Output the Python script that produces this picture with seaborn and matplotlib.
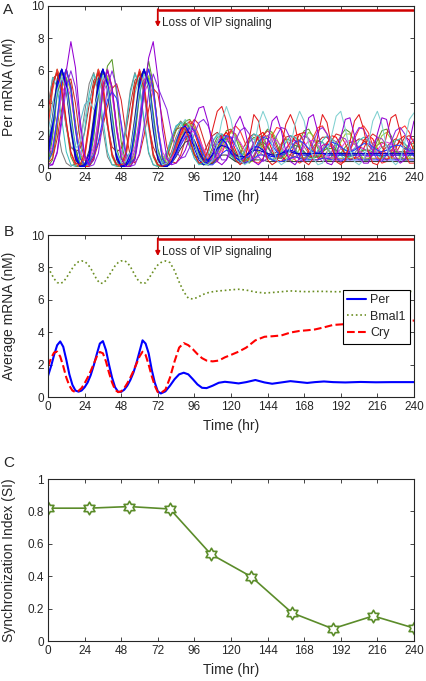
import numpy as np
import pandas as pd
import seaborn as sns
import matplotlib.pyplot as plt
from matplotlib.path import Path

# ---- panel A: single-cell Per mRNA (nM), sampled every 3 h ----
hours = list(range(0, 241, 3))

cell_01 = [0.8, 2.6, 5.0, 6.1, 5.2, 2.8, 0.8, 0.1, 0.1, 0.6, 2.6, 5.0, 6.1, 5.2, 2.8, 0.8, 0.1, 0.1, 0.6, 2.6, 5.0, 6.1, 5.2, 2.8, 0.8,
           0.2, 0.3, 0.9, 1.7, 2.4, 2.6, 2.1, 1.2, 0.5, 0.2, 0.4, 0.9, 1.5, 1.8, 1.5, 0.9,
           0.6, 0.5, 0.7, 1.0, 1.3, 1.3, 1.1, 0.8, 0.7, 0.7, 0.9, 1.1, 1.1, 1.0, 0.8, 0.8, 0.8, 0.9, 0.9, 0.9,
           0.8, 0.8, 0.8, 0.8, 0.8, 0.8, 0.8, 0.8, 0.8, 0.8, 0.8, 0.8, 0.8, 0.8, 0.8, 0.8, 0.8, 0.8, 0.8, 0.8]
cell_02 = [1.2, 0.8, 2.7, 5.1, 6.1, 5.0, 2.6, 0.7, 0.1, 0.1, 0.7, 2.7, 5.1, 6.1, 5.0, 2.6, 0.7, 0.1, 0.1, 0.7, 2.7, 5.1, 6.1, 5.0, 2.6,
           0.7, 0.1, 0.4, 1.2, 2.1, 2.7, 2.8, 2.2, 1.3, 0.5, 0.2, 0.5, 1.2, 1.9, 2.2, 1.8,
           1.1, 0.5, 0.3, 0.6, 1.3, 2.0, 2.2, 1.8, 1.1, 0.5, 0.4, 0.7, 1.4, 2.0, 2.1, 1.6, 1.0, 0.5, 0.5, 0.9,
           1.5, 2.0, 1.9, 1.4, 0.8, 0.5, 0.6, 1.1, 1.7, 2.0, 1.8, 1.2, 0.7, 0.5, 0.7, 1.2, 1.8, 2.0, 1.7, 1.1]
cell_03 = [2.8, 5.0, 6.1, 5.0, 2.6, 0.7, 0.1, 0.1, 0.7, 2.7, 5.1, 6.1, 5.0, 2.6, 0.7, 0.1, 0.1, 0.7, 2.7, 5.1, 6.0, 5.0, 2.6, 0.7, 0.1,
           0.1, 0.6, 1.5, 2.3, 2.8, 2.6, 1.8, 0.9, 0.3, 0.2, 0.6, 1.3, 1.9, 2.0, 1.5, 0.8,
           0.4, 0.5, 1.0, 1.6, 1.9, 1.7, 1.1, 0.6, 0.5, 0.8, 1.4, 1.8, 1.7, 1.2, 0.7, 0.6, 0.8, 1.3, 1.7, 1.6,
           1.2, 0.8, 0.6, 0.9, 1.3, 1.6, 1.5, 1.1, 0.8, 0.7, 1.0, 1.4, 1.6, 1.4, 1.0, 0.8, 0.8, 1.1, 1.5, 1.5]
cell_04 = [0.3, 0.2, 1.0, 3.2, 6.0, 7.8, 6.2, 3.0, 0.8, 0.2, 0.5, 2.4, 4.8, 6.0, 5.0, 2.4, 0.6, 0.1, 0.1, 0.5, 2.2, 4.6, 6.8, 7.8, 5.6,
           2.4, 0.6, 0.2, 0.3, 0.6, 1.1, 1.9, 2.9, 3.7, 3.8, 2.8, 1.3, 0.4, 0.2, 0.5, 1.4,
           2.7, 3.2, 2.4, 1.1, 0.4, 0.2, 0.5, 1.6, 2.9, 3.2, 2.3, 1.0, 0.4, 0.2, 0.6, 1.8, 3.1, 3.3, 2.2, 0.9,
           0.3, 0.2, 0.7, 1.9, 3.0, 3.1, 2.0, 0.8, 0.3, 0.3, 0.9, 2.1, 3.1, 3.0, 1.8, 0.7, 0.3, 0.5, 1.6, 2.9]
cell_05 = [1.8, 3.0, 4.8, 5.6, 4.9, 2.9, 1.2, 1.6, 3.0, 4.2, 3.6, 4.6, 5.7, 5.0, 2.9, 1.0, 0.3, 0.4, 1.0, 2.8, 4.8, 5.8, 5.0, 2.8, 0.9,
           0.2, 0.3, 0.9, 1.8, 2.6, 3.0, 2.6, 1.6, 0.7, 0.3, 0.2, 0.5, 1.5, 2.9, 3.8, 3.0,
           1.5, 0.5, 0.2, 0.4, 1.3, 2.7, 3.5, 2.8, 1.4, 0.5, 0.2, 0.4, 1.3, 2.7, 3.5, 2.9, 1.5, 0.6, 0.2, 0.3,
           0.9, 2.0, 3.2, 3.5, 2.4, 1.1, 0.4, 0.2, 0.5, 1.5, 2.9, 3.5, 2.7, 1.3, 0.5, 0.2, 0.5, 1.6, 3.0, 3.4]
cell_06 = [3.5, 5.2, 5.9, 4.8, 2.8, 1.0, 0.3, 0.2, 0.9, 2.9, 5.0, 5.9, 4.9, 2.7, 0.8, 0.2, 0.2, 0.9, 2.9, 5.0, 5.9, 4.9, 2.7, 0.8, 0.2,
           0.1, 0.3, 1.0, 1.9, 2.5, 2.4, 1.7, 0.8, 0.3, 0.4, 1.1, 2.4, 3.5, 3.8, 2.9, 1.4,
           0.5, 0.2, 0.5, 1.8, 3.3, 2.9, 1.5, 0.5, 0.2, 0.4, 1.3, 2.7, 3.3, 2.6, 1.2, 0.4, 0.2, 0.6, 2.0, 3.3,
           2.8, 1.3, 0.4, 0.2, 0.5, 1.6, 2.9, 3.3, 2.4, 1.0, 0.3, 0.2, 0.7, 2.0, 3.1, 3.3, 2.2, 0.9, 0.3, 0.3]
cell_07 = [0.4, 1.0, 3.0, 5.3, 6.1, 4.9, 2.4, 0.6, 0.2, 0.3, 0.8, 1.6, 3.0, 4.2, 4.7, 4.3, 2.8, 1.0, 0.3, 0.6, 2.6, 5.0, 6.1, 4.9, 2.5,
           0.6, 0.1, 0.3, 0.9, 1.6, 2.2, 2.5, 2.3, 1.6, 0.8, 0.4, 0.5, 1.0, 1.6, 2.0, 1.9,
           1.4, 0.9, 0.6, 0.7, 1.1, 1.6, 1.9, 1.8, 1.4, 1.0, 0.8, 0.9, 1.2, 1.6, 1.7, 1.5, 1.2, 1.0, 0.9, 1.1,
           1.4, 1.6, 1.5, 1.3, 1.1, 1.0, 1.1, 1.3, 1.5, 1.5, 1.3, 1.1, 1.0, 1.1, 1.3, 1.4, 1.4, 1.2, 1.1, 1.1]
cell_08 = [4.5, 4.0, 2.6, 1.0, 0.3, 0.1, 0.3, 1.5, 3.4, 5.2, 5.9, 4.6, 2.4, 0.7, 0.2, 0.2, 0.8, 2.6, 4.8, 5.9, 5.0, 2.8, 0.9, 0.2, 0.1,
           0.2, 0.8, 1.7, 2.5, 2.9, 2.6, 1.8, 0.9, 0.3, 0.2, 0.5, 1.1, 1.7, 2.1, 1.9, 1.3,
           0.7, 0.4, 0.5, 1.0, 1.6, 2.0, 1.9, 1.4, 0.9, 0.6, 0.7, 1.1, 1.6, 1.9, 1.7, 1.3, 0.9, 0.7, 0.8, 1.2,
           1.6, 1.8, 1.6, 1.2, 0.9, 0.8, 0.9, 1.3, 1.6, 1.7, 1.5, 1.1, 0.9, 0.9, 1.1, 1.4, 1.6, 1.5, 1.2, 1.0]
cell_09 = [0.1, 0.5, 2.4, 4.9, 6.0, 5.1, 2.8, 0.9, 0.2, 0.1, 0.5, 2.3, 4.6, 6.3, 6.7, 4.6, 1.6, 0.3, 0.1, 0.6, 2.6, 5.0, 6.6, 5.2, 2.4,
           0.6, 0.2, 0.6, 1.4, 2.3, 2.9, 3.0, 2.5, 1.5, 0.6, 0.2, 0.3, 0.9, 1.7, 2.3, 2.4,
           1.9, 1.1, 0.5, 0.3, 0.6, 1.3, 2.0, 2.4, 2.2, 1.5, 0.8, 0.4, 0.5, 1.0, 1.7, 2.3, 2.4, 1.9, 1.2, 0.6,
           0.4, 0.7, 1.3, 2.0, 2.4, 2.2, 1.6, 0.9, 0.5, 0.5, 1.0, 1.7, 2.3, 2.4, 2.0, 1.3, 0.7, 0.5, 0.8, 1.4]
cell_10 = [1.2, 2.9, 5.2, 6.0, 5.0, 2.6, 0.7, 0.2, 0.2, 0.8, 2.9, 5.2, 6.1, 5.0, 2.6, 0.7, 0.2, 0.2, 0.8, 2.9, 5.2, 6.1, 5.0, 2.6, 0.7,
           0.2, 0.2, 0.7, 1.5, 2.3, 2.7, 2.4, 1.6, 0.8, 0.3, 0.3, 0.8, 1.5, 2.0, 2.0, 1.5,
           0.9, 0.5, 0.5, 0.9, 1.5, 1.9, 1.8, 1.3, 0.8, 0.6, 0.7, 1.2, 1.6, 1.7, 1.4, 1.0, 0.7, 0.7, 1.0, 1.4,
           1.5, 1.3, 1.0, 0.8, 0.8, 1.0, 1.2, 1.3, 1.2, 1.0, 0.9, 0.9, 1.0, 1.1, 1.1, 1.0, 1.0, 1.0, 1.0, 1.0]
cell_11 = [0.3, 0.6, 1.8, 3.6, 5.2, 5.5, 4.0, 1.8, 0.5, 0.3, 0.6, 1.5, 2.6, 3.8, 4.9, 5.2, 4.2, 2.2, 0.7, 0.3, 0.8, 2.0, 3.6, 4.9, 4.6,
           3.0, 1.3, 0.4, 0.3, 0.8, 1.7, 2.6, 3.0, 2.7, 1.8, 0.9, 0.4, 0.6, 1.3, 2.0, 2.3,
           2.1, 1.5, 0.8, 0.5, 0.7, 1.3, 2.0, 2.3, 2.0, 1.3, 0.7, 0.5, 0.8, 1.5, 2.1, 2.2, 1.8, 1.1, 0.6, 0.6,
           1.0, 1.7, 2.1, 2.0, 1.5, 0.9, 0.6, 0.7, 1.2, 1.8, 2.1, 1.9, 1.3, 0.8, 0.6, 0.9, 1.4, 1.9, 2.0, 1.6]
cell_12 = [2.2, 4.0, 5.0, 4.4, 2.6, 1.2, 1.4, 2.8, 3.9, 4.2, 4.9, 5.6, 4.8, 2.6, 0.9, 0.3, 0.3, 0.9, 2.6, 4.6, 5.6, 4.7, 2.4, 0.8, 0.3,
           0.4, 1.0, 1.9, 2.6, 2.8, 2.3, 1.4, 0.6, 0.3, 0.5, 1.1, 1.7, 2.0, 1.8, 1.2, 0.6,
           0.4, 0.6, 1.1, 1.6, 1.8, 1.5, 1.0, 0.6, 0.5, 0.8, 1.3, 1.6, 1.6, 1.2, 0.8, 0.6, 0.7, 1.1, 1.5, 1.6,
           1.3, 0.9, 0.7, 0.8, 1.1, 1.4, 1.5, 1.3, 1.0, 0.8, 0.8, 1.0, 1.3, 1.4, 1.3, 1.1, 0.9, 0.9, 1.0, 1.2]
cell_13 = [0.5, 2.2, 4.7, 6.0, 5.4, 3.2, 1.0, 0.2, 0.1, 0.4, 2.2, 4.7, 6.0, 5.4, 3.2, 1.0, 0.2, 0.1, 0.4, 2.2, 4.7, 6.0, 5.4, 3.2, 1.0,
           0.2, 0.1, 0.5, 1.2, 2.0, 2.4, 2.2, 1.5, 0.7, 0.3, 0.3, 0.7, 1.2, 1.4, 1.2, 0.8,
           0.5, 0.4, 0.6, 0.9, 1.1, 1.0, 0.8, 0.6, 0.5, 0.6, 0.8, 0.9, 0.8, 0.7, 0.6, 0.6, 0.6, 0.7, 0.7, 0.7,
           0.6, 0.6, 0.6, 0.6, 0.6, 0.6, 0.6, 0.6, 0.6, 0.6, 0.6, 0.6, 0.6, 0.6, 0.6, 0.6, 0.6, 0.6, 0.6, 0.6]
cell_14 = [0.1, 0.2, 0.9, 2.8, 5.0, 6.0, 5.0, 2.6, 0.7, 0.1, 0.2, 0.9, 2.8, 5.0, 6.0, 5.0, 2.6, 0.7, 0.1, 0.2, 0.9, 2.6, 4.6, 5.8, 5.0,
           4.3, 3.6, 2.2, 1.1, 0.6, 0.7, 1.3, 2.1, 2.8, 3.0, 2.6, 1.8, 1.0, 0.5, 0.5, 1.0,
           1.7, 2.3, 2.5, 2.1, 1.4, 0.7, 0.4, 0.6, 1.2, 2.0, 2.5, 2.4, 1.8, 1.0, 0.5, 0.4, 0.8, 1.6, 2.3, 2.5,
           2.1, 1.4, 0.7, 0.4, 0.6, 1.2, 2.0, 2.5, 2.4, 1.8, 1.0, 0.5, 0.4, 0.8, 1.6, 2.3, 2.5, 2.1, 1.4, 0.7]
cell_15 = [1.0, 2.9, 5.3, 6.1, 5.0, 2.5, 0.6, 0.1, 0.2, 0.9, 2.9, 5.3, 6.1, 5.0, 2.5, 0.6, 0.1, 0.2, 0.9, 2.9, 5.3, 6.1, 5.0, 2.5, 0.6,
           0.1, 0.1, 0.4, 1.0, 1.7, 2.2, 2.2, 1.7, 1.0, 0.5, 0.5, 0.8, 1.2, 1.4, 1.3, 1.1,
           0.8, 0.7, 0.7, 0.9, 1.1, 1.1, 1.0, 0.9, 0.8, 0.8, 0.9, 1.0, 1.0, 0.9, 0.9, 0.9, 0.9, 0.9, 0.9, 0.9,
           0.9, 0.9, 0.9, 0.9, 0.9, 0.9, 0.9, 0.9, 0.9, 0.9, 0.9, 0.9, 0.9, 0.9, 0.9, 0.9, 0.9, 0.9, 0.9, 0.9]
cell_16 = [3.9, 5.5, 5.8, 4.4, 2.5, 1.3, 1.0, 1.2, 2.2, 3.9, 5.4, 5.8, 4.6, 2.6, 1.3, 1.0, 1.2, 2.2, 3.9, 5.4, 5.8, 4.6, 2.6, 1.3, 0.7,
           0.5, 1.0, 1.8, 2.4, 2.5, 2.0, 1.3, 0.8, 0.6, 0.9, 1.5, 2.0, 2.2, 1.9, 1.4, 0.9,
           0.7, 0.9, 1.4, 1.9, 2.1, 1.8, 1.3, 0.9, 0.8, 1.0, 1.5, 1.9, 2.0, 1.7, 1.2, 0.9, 0.8, 1.1, 1.6, 1.9,
           1.9, 1.5, 1.1, 0.9, 0.9, 1.2, 1.6, 1.8, 1.7, 1.4, 1.1, 0.9, 1.0, 1.3, 1.6, 1.8, 1.6, 1.3, 1.0, 0.9]
cell_17 = [0.3, 0.9, 2.8, 4.9, 5.6, 4.7, 2.5, 0.8, 0.2, 0.2, 0.9, 2.8, 4.9, 5.7, 4.7, 2.5, 0.8, 0.2, 0.2, 0.9, 2.8, 4.9, 5.7, 4.7, 2.5,
           0.8, 0.3, 0.5, 1.1, 1.8, 2.4, 2.7, 2.5, 1.8, 1.0, 0.4, 0.3, 0.7, 1.3, 1.9, 2.2,
           2.0, 1.4, 0.8, 0.4, 0.4, 0.9, 1.5, 2.0, 2.2, 1.8, 1.2, 0.6, 0.4, 0.6, 1.2, 1.8, 2.2, 2.0, 1.4, 0.8,
           0.4, 0.5, 1.0, 1.6, 2.1, 2.1, 1.6, 1.0, 0.5, 0.4, 0.8, 1.4, 2.0, 2.2, 1.8, 1.2, 0.6, 0.4, 0.6, 1.2]
cell_18 = [0.6, 2.4, 4.9, 6.1, 5.3, 3.0, 0.9, 0.1, 0.1, 0.5, 2.4, 4.9, 6.1, 5.3, 3.0, 0.9, 0.1, 0.1, 0.5, 2.4, 4.9, 6.1, 5.3, 3.0, 0.9,
           0.2, 0.1, 0.3, 0.8, 1.4, 1.9, 2.0, 1.7, 1.1, 0.5, 0.2, 0.2, 0.5, 0.9, 1.1, 1.0,
           0.7, 0.4, 0.3, 0.4, 0.6, 0.8, 0.8, 0.7, 0.5, 0.4, 0.4, 0.5, 0.6, 0.7, 0.6, 0.5, 0.5, 0.5, 0.5, 0.6,
           0.6, 0.5, 0.5, 0.5, 0.5, 0.5, 0.5, 0.5, 0.5, 0.5, 0.5, 0.5, 0.5, 0.5, 0.5, 0.5, 0.5, 0.5, 0.5, 0.5]
cell_19 = [2.5, 4.8, 6.1, 5.3, 2.9, 0.9, 0.2, 0.1, 0.6, 2.5, 4.9, 6.1, 5.3, 2.9, 0.9, 0.2, 0.1, 0.6, 2.5, 4.9, 6.1, 5.3, 2.9, 0.9, 0.2,
           0.1, 0.2, 0.6, 1.3, 2.0, 2.6, 2.9, 2.7, 2.0, 1.1, 0.5, 0.3, 0.4, 0.9, 1.6, 2.3,
           2.6, 2.3, 1.6, 0.9, 0.4, 0.3, 0.6, 1.3, 2.0, 2.5, 2.4, 1.8, 1.1, 0.5, 0.3, 0.5, 1.1, 1.9, 2.5, 2.6,
           2.1, 1.3, 0.6, 0.3, 0.4, 1.0, 1.8, 2.4, 2.6, 2.2, 1.4, 0.7, 0.3, 0.4, 0.9, 1.7, 2.4, 2.6, 2.2, 1.5]
cell_20 = [0.5, 1.2, 3.1, 5.4, 6.1, 4.8, 2.3, 0.6, 0.2, 0.3, 1.1, 3.1, 5.4, 6.1, 4.8, 2.3, 0.6, 0.2, 0.3, 1.1, 3.1, 5.4, 6.1, 4.8, 2.3,
           0.6, 0.2, 0.4, 1.0, 1.7, 2.3, 2.6, 2.4, 1.7, 0.9, 0.4, 0.4, 0.9, 1.5, 1.9, 1.9,
           1.4, 0.8, 0.4, 0.4, 0.8, 1.4, 1.9, 2.0, 1.7, 1.1, 0.6, 0.4, 0.6, 1.1, 1.7, 2.0, 1.8, 1.3, 0.7, 0.4,
           0.5, 1.0, 1.6, 1.9, 1.8, 1.3, 0.8, 0.5, 0.5, 0.9, 1.5, 1.9, 1.8, 1.4, 0.9, 0.5, 0.5, 0.8, 1.4, 1.8]
cell_21 = [0.2, 1.9, 4.5, 5.9, 5.5, 3.4, 1.2, 0.3, 0.2, 0.3, 1.9, 4.5, 5.9, 5.5, 3.4, 1.2, 0.3, 0.2, 0.3, 1.9, 4.5, 5.9, 5.5, 3.4, 1.2,
           0.3, 0.2, 0.8, 1.6, 2.4, 2.8, 2.5, 1.6, 0.7, 0.2, 0.2, 0.6, 1.2, 1.7, 1.8, 1.4,
           0.9, 0.5, 0.4, 0.7, 1.1, 1.5, 1.6, 1.3, 0.9, 0.6, 0.6, 0.9, 1.2, 1.4, 1.3, 1.0, 0.7, 0.6, 0.7, 1.0,
           1.2, 1.2, 1.1, 0.9, 0.7, 0.7, 0.8, 1.0, 1.1, 1.1, 1.0, 0.8, 0.7, 0.8, 0.9, 1.0, 1.0, 1.0, 0.9, 0.8]
cell_22 = [3.6, 5.6, 5.0, 3.0, 1.0, 0.2, 0.1, 0.5, 2.3, 4.6, 5.8, 5.1, 3.0, 1.0, 0.2, 0.1, 0.5, 2.3, 4.6, 5.8, 5.1, 3.0, 1.0, 0.2, 0.1,
           0.3, 0.9, 1.8, 2.6, 2.8, 2.3, 1.4, 0.6, 0.2, 0.3, 0.9, 1.6, 2.1, 2.1, 1.5, 0.8,
           0.4, 0.5, 1.1, 1.7, 2.1, 2.0, 1.5, 0.9, 0.5, 0.5, 1.0, 1.6, 2.0, 1.9, 1.4, 0.8, 0.5, 0.6, 1.1, 1.7,
           2.0, 1.8, 1.3, 0.8, 0.5, 0.7, 1.2, 1.7, 1.9, 1.7, 1.2, 0.8, 0.6, 0.8, 1.3, 1.7, 1.8, 1.5, 1.1, 0.8]
cell_23 = [0.9, 1.3, 2.9, 4.6, 5.2, 4.4, 2.5, 1.0, 0.5, 0.6, 1.3, 2.9, 4.6, 5.3, 4.5, 2.5, 1.0, 0.5, 0.6, 1.3, 2.9, 4.6, 5.3, 4.5, 2.5,
           1.0, 0.5, 0.6, 1.0, 1.5, 2.0, 2.3, 2.2, 1.8, 1.2, 0.7, 0.5, 0.7, 1.1, 1.6, 1.9,
           1.9, 1.6, 1.1, 0.7, 0.5, 0.7, 1.1, 1.5, 1.8, 1.7, 1.3, 0.9, 0.6, 0.6, 0.9, 1.3, 1.7, 1.7, 1.4, 1.0,
           0.7, 0.6, 0.8, 1.2, 1.6, 1.7, 1.5, 1.1, 0.8, 0.7, 0.8, 1.1, 1.5, 1.6, 1.5, 1.2, 0.9, 0.8, 0.9, 1.1]
cell_24 = [1.5, 3.2, 5.5, 6.1, 4.8, 2.3, 0.5, 0.1, 0.2, 1.1, 3.2, 5.5, 6.1, 4.8, 2.3, 0.5, 0.1, 0.2, 1.1, 3.2, 5.5, 6.1, 4.8, 2.3, 0.5,
           0.1, 0.1, 0.3, 0.7, 1.2, 1.6, 1.7, 1.4, 0.9, 0.4, 0.2, 0.3, 0.6, 0.8, 0.8, 0.6,
           0.4, 0.3, 0.3, 0.4, 0.5, 0.5, 0.5, 0.4, 0.4, 0.4, 0.4, 0.4, 0.4, 0.4, 0.4, 0.4, 0.4, 0.4, 0.4, 0.4,
           0.4, 0.4, 0.4, 0.4, 0.4, 0.4, 0.4, 0.4, 0.4, 0.4, 0.4, 0.4, 0.4, 0.4, 0.4, 0.4, 0.4, 0.4, 0.4, 0.4]

# drawing order: bulk first, outliers last
cells = [cell_08, cell_16, cell_03, cell_13, cell_12, cell_09, cell_11, cell_10, cell_02,
         cell_17, cell_19, cell_20, cell_21, cell_22, cell_23, cell_24,
         cell_07, cell_14, cell_18, cell_01, cell_15, cell_06, cell_05, cell_04]
cell_colors = ["#808080", "#b03030", "#6b8e23", "#8c8c2c", "#5fb8c8", "#5a9a2a", "#d62728", "#c000c0", "#ff0000",
               "#9acd32", "#ff3333", "#a040c0", "#3c9c3c", "#40c0c0", "#e040e0", "#404040",
               "#1f3fff", "#8a2be2", "#3030ff", "#0000ff", "#0000cd", "#e31a1c", "#7fd0d0", "#9400d3"]

# ---- panel B: population-average mRNA (nM) ----
avg_hours = [0, 2, 4, 6, 8, 10, 12, 14, 16, 18, 20, 22, 24, 26, 28, 30, 32, 34, 36, 38,
             40, 42, 44, 46, 48, 50, 52, 54, 56, 58, 60, 62, 64, 66, 68, 70, 72, 74,
             77, 80, 83, 86, 89, 92, 95, 98, 101, 104, 108, 112, 116, 120, 125, 130, 136, 142,
             147, 153, 159, 165, 170, 175, 181, 187, 195, 205, 215, 225, 240]
per_avg = [1.3, 1.9, 2.6, 3.2, 3.43, 3.1, 2.3, 1.4, 0.75, 0.4, 0.33, 0.4, 0.6, 0.9, 1.35, 1.95, 2.65, 3.3, 3.45, 2.9,
           2.0, 1.2, 0.6, 0.32, 0.32, 0.45, 0.7, 1.05, 1.5, 2.1, 2.8, 3.5, 3.3, 2.7, 1.7, 0.9, 0.35, 0.22,
           0.35, 0.7, 1.1, 1.4, 1.5, 1.4, 1.1, 0.78, 0.57, 0.55, 0.7, 0.88, 0.94, 0.9, 0.84, 0.92, 1.05, 0.9,
           0.82, 0.9, 0.98, 0.92, 0.87, 0.92, 0.96, 0.92, 0.9, 0.93, 0.91, 0.92, 0.92]
bmal1_avg = [8.0, 7.65, 7.3, 7.07, 7.0, 7.1, 7.35, 7.65, 7.95, 8.2, 8.35, 8.4, 8.37, 8.2, 7.95, 7.6, 7.25, 7.03, 7.02, 7.2,
             7.5, 7.8, 8.1, 8.3, 8.4, 8.42, 8.3, 8.05, 7.7, 7.35, 7.1, 7.0, 7.05, 7.3, 7.6, 7.9, 8.15, 8.3,
             8.4, 8.3, 7.8, 7.1, 6.5, 6.1, 6.05, 6.15, 6.3, 6.42, 6.5, 6.55, 6.58, 6.62, 6.65, 6.6, 6.48, 6.42,
             6.45, 6.5, 6.55, 6.52, 6.5, 6.52, 6.52, 6.5, 6.5, 6.5, 6.5, 6.5, 6.52]
cry_avg = [1.9, 2.4, 2.75, 2.8, 2.5, 1.9, 1.2, 0.7, 0.4, 0.3, 0.38, 0.55, 0.85, 1.2, 1.6, 2.05, 2.5, 2.78, 2.7, 2.2,
           1.5, 0.9, 0.45, 0.3, 0.35, 0.55, 0.85, 1.2, 1.6, 2.05, 2.5, 2.8, 2.6, 2.0, 1.3, 0.7, 0.3, 0.25,
           0.45, 1.2, 2.2, 3.05, 3.33, 3.2, 2.95, 2.65, 2.4, 2.25, 2.2, 2.25, 2.45, 2.6, 2.8, 3.05, 3.5, 3.72,
           3.75, 3.8, 3.98, 4.08, 4.12, 4.17, 4.3, 4.45, 4.5, 4.55, 4.6, 4.65, 4.72]

# ---- panel C: synchronization index ----
si_hours = [0, 26.7, 53.3, 80, 106.7, 133.3, 160, 186.7, 213.3, 240]
si_values = [0.82, 0.82, 0.83, 0.815, 0.537, 0.397, 0.174, 0.076, 0.155, 0.08]

vip_loss_hr = 72
hour_ticks = list(range(0, 241, 24))

sns.set_style("ticks", {"xtick.direction": "in", "ytick.direction": "in"})
plt.rcParams["font.family"] = ["Liberation Sans", "DejaVu Sans"]
plt.rcParams["axes.linewidth"] = 0.8

fig = plt.figure(figsize=(4.26, 6.81), dpi=100)
ax_a = fig.add_axes([0.1127, 0.7533, 0.859, 0.2379])
ax_b = fig.add_axes([0.1127, 0.417, 0.859, 0.2379])
ax_c = fig.add_axes([0.1127, 0.0587, 0.859, 0.2379])

# panel A
df_a = pd.DataFrame({
    "hour": hours * len(cells),
    "mrna": [v for c in cells for v in c],
    "cell": [i for i, c in enumerate(cells) for _ in c],
})
sns.lineplot(data=df_a, x="hour", y="mrna", hue="cell", palette=cell_colors,
             estimator=None, legend=False, linewidth=0.75, ax=ax_a)
ax_a.set_ylim(0, 10)
ax_a.set_yticks([0, 2, 4, 6, 8, 10])
ax_a.set_ylabel("Per mRNA (nM)")

# panel B
sns.lineplot(x=avg_hours, y=per_avg, color="#0000ff", linewidth=1.5, label="Per", ax=ax_b)
sns.lineplot(x=avg_hours, y=bmal1_avg, color="#6b8e23", linewidth=1.2, linestyle=":", label="Bmal1", ax=ax_b)
sns.lineplot(x=avg_hours, y=cry_avg, color="#ff0000", linewidth=1.5, linestyle="--", label="Cry", ax=ax_b)
ax_b.set_ylim(0, 10)
ax_b.set_yticks([0, 2, 4, 6, 8, 10])
ax_b.set_ylabel("Average mRNA (nM)")
leg = ax_b.legend(loc="upper left", bbox_to_anchor=(0.806, 0.66), borderaxespad=0,
                  fancybox=False, framealpha=1, edgecolor="black", fontsize=9,
                  handlelength=1.5, borderpad=0.35, labelspacing=0.35, handletextpad=0.35)
leg.get_frame().set_linewidth(0.8)

# VIP loss marker in A and B
for ax in (ax_a, ax_b):
    ax.plot([vip_loss_hr, 240], [9.75, 9.75], color="#d00000", lw=1.8, solid_capstyle="butt")
    ax.annotate("", xy=(vip_loss_hr, 8.7), xytext=(vip_loss_hr, 9.8),
                arrowprops=dict(arrowstyle="-|>", color="#d00000", lw=1.3, mutation_scale=6,
                                shrinkA=0, shrinkB=0))
    ax.text(vip_loss_hr + 3, 8.95, "Loss of VIP signaling", fontsize=8.5, va="center", ha="left")

# panel C
star = Path.unit_regular_star(6, 0.577)
sns.lineplot(x=si_hours, y=si_values, color="#5b8c2a", linewidth=1.2, marker=star,
             markersize=9, markerfacecolor="white", markeredgecolor="#5b8c2a", markeredgewidth=1.2,
             ax=ax_c)
ax_c.set_ylim(0, 1)
ax_c.set_yticks([0, 0.2, 0.4, 0.6, 0.8, 1])
ax_c.set_yticklabels(["0", "0.2", "0.4", "0.6", "0.8", "1"])
ax_c.set_ylabel("Synchronization Index (SI)")

for ax, letter, ly in ((ax_a, "A", 0.995), (ax_b, "B", 0.67), (ax_c, "C", 0.33)):
    ax.set_xlim(0, 240)
    ax.set_xticks(hour_ticks)
    ax.set_xlabel("Time (hr)", fontsize=10)
    ax.yaxis.label.set_fontsize(10)
    ax.tick_params(labelsize=8.5, length=3, width=0.6, top=True, right=True, pad=3)
    ax.yaxis.set_label_coords(-0.087, 0.5)
    for s in ax.spines.values():
        s.set_visible(True)
    fig.text(0.008, ly, letter, fontsize=11, va="top", ha="left")

fig.savefig("out.png", dpi=100)
